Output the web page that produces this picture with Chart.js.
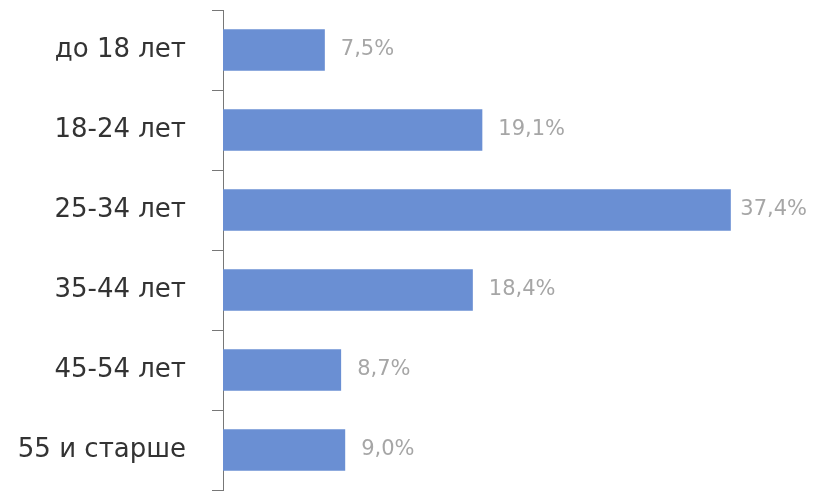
<!DOCTYPE html>
<html>
<head>
<meta charset="utf-8">
<script src="https://cdn.jsdelivr.net/npm/chart.js@4/dist/chart.umd.min.js"></script>
<style>
  html, body { margin: 0; padding: 0; background: #fff; }
  #wrap { width: 815px; height: 492px; position: relative; }
</style>
</head>
<body>
<div id="wrap"><canvas id="grafica"></canvas></div>
<script>
const categorias = ['до 18 лет', '18-24 лет', '25-34 лет', '35-44 лет', '45-54 лет', '55 и старше'];
const valores = [7.5, 19.1, 37.4, 18.4, 8.7, 9.0];

const etiquetas = {
    id: 'etiquetas',
    afterDatasetsDraw(chart) {
        const c = chart.ctx;
        const meta = chart.getDatasetMeta(0);
        c.save();
        c.font = '21px "DejaVu Sans"';
        c.fillStyle = '#a6a6a6';
        c.textBaseline = 'middle';
        c.textAlign = 'left';
        meta.data.forEach((bar, i) => {
            const txt = valores[i].toFixed(1).replace('.', ',') + '%';
            const w = c.measureText(txt).width;
            // si no cabe, se pega al borde derecho
            let x = Math.min(bar.x + 16, chart.width - 8 - w);
            c.fillText(txt, x, bar.y);
        });
        c.restore();
    }
};

const ctx = document.getElementById('grafica').getContext('2d');
let ch = new Chart(ctx, {
    type: 'bar',
    data: {
        labels: categorias,
        datasets: [{
            data: valores,
            backgroundColor: '#6a8fd3',
            borderWidth: 0,
            barPercentage: 0.52,
            categoryPercentage: 1
        }]
    },
    options: {
        indexAxis: 'y',
        responsive: true,
        maintainAspectRatio: false,
        animation: false,
        layout: { padding: { top: 10, bottom: 2, right: 0, left: 0 } },
        plugins: {
            legend: { display: false },
            tooltip: { enabled: false }
        },
        scales: {
            x: {
                display: false,
                min: 0,
                max: 43.6
            },
            y: {
                offset: true,
                afterFit: function(scale) {
                    scale.width = 223;
                    scale.paddingTop = 0;
                    scale.paddingBottom = 0;
                },
                grid: {
                    offset: true,
                    drawOnChartArea: false,
                    drawTicks: true,
                    tickLength: 11,
                    color: '#777'
                },
                border: { display: true, color: '#777', width: 1 },
                ticks: {
                    padding: 26,
                    color: '#333',
                    font: { family: '"DejaVu Sans"', size: 26 }
                }
            }
        }
    },
    plugins: [etiquetas]
});
</script>
</body>
</html>
